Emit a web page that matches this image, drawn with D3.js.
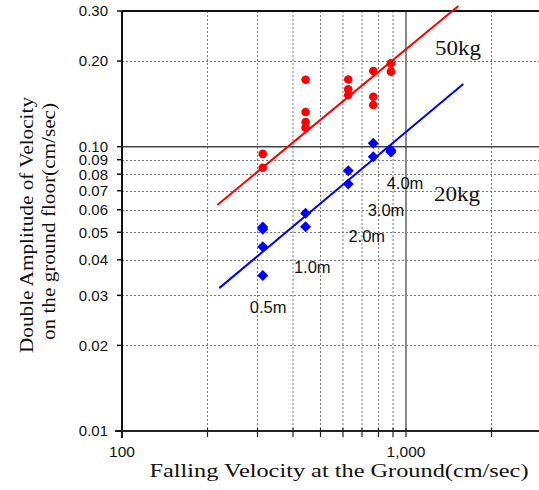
<!DOCTYPE html>
<html><head><meta charset="utf-8">
<script src="https://cdn.jsdelivr.net/npm/d3@7"></script>
<style>body{margin:0;background:#fff}svg{display:block}</style>
</head><body>
<script>
// ---- data ----
const heights = ["0.5m","1.0m","2.0m","3.0m","4.0m"];
const fallVel = [313, 443, 626, 767, 885];           // cm/sec for each drop height
const red50x = [313,313, 443,443,443,443, 626,626,626, 767,767,767, 885,885];
const red50y = [0.0943,0.0843, 0.172,0.1324,0.1221,0.1166, 0.1722,0.159,0.152, 0.1846,0.1499,0.1402, 0.1965,0.1836];
const blue20x = [313,313,313,313, 443,443, 626,626, 767,767, 885,885];
const blue20y = [0.0522,0.0512,0.0445,0.0352, 0.0583,0.0523, 0.0823,0.0739, 0.1028,0.0922, 0.0972,0.0958];
const fit50x = [216.6, 1529], fit50y = [0.0624, 0.3126];
const fit20x = [220, 1591], fit20y = [0.0318, 0.166];
const yTicks = [0.01,0.02,0.03,0.04,0.05,0.06,0.07,0.08,0.09,0.10,0.20,0.30];
const yTickLabels = ["0.01","0.02","0.03","0.04","0.05","0.06","0.07","0.08","0.09","0.10","0.20","0.30"];
const xGrid = [200,300,400,500,600,700,800,900,2000];
const xTicks = [100,1000];
const xTickLabels = ["100","1,000"];
const heightLabelX = [282, 403, 627, 733, 855];
const heightLabelY = [0.0259, 0.0359, 0.0463, 0.0570, 0.0708];
const seriesLabels = ["50kg","20kg"];
const seriesLabelX = [1265, 1255];
const seriesLabelY = [0.2104, 0.0646];

const W = 539, H = 490;
const x = d3.scaleLog().domain([100, 3000]).range([122, 541.5]);
const y = d3.scaleLog().domain([0.01, 0.3]).range([431, 11]);

const svg = d3.select("body").append("svg").attr("width", W).attr("height", H);
const sans = "'Liberation Sans', Arial, sans-serif";
const serif = "'Liberation Serif', 'Times New Roman', serif";

// gridlines
const g = svg.append("g");
g.selectAll(".vg").data(xGrid).join("line")
  .attr("x1", d => x(d)).attr("x2", d => x(d)).attr("y1", y(0.3)).attr("y2", y(0.01))
  .attr("stroke", "#777").attr("stroke-width", 1).attr("stroke-dasharray", "2,2");
g.selectAll(".hg").data(yTicks.filter(d => d !== 0.1 && d !== 0.01 && d !== 0.3)).join("line")
  .attr("x1", x(100)).attr("x2", W).attr("y1", d => Math.round(y(d)) + 0.5).attr("y2", d => Math.round(y(d)) + 0.5)
  .attr("stroke", "#777").attr("stroke-width", 1).attr("stroke-dasharray", "2,2");
// major gridlines
g.append("line").attr("x1", x(1000)).attr("x2", x(1000)).attr("y1", y(0.3)).attr("y2", y(0.01))
  .attr("stroke", "#888").attr("stroke-width", 2);
g.append("line").attr("x1", x(100)).attr("x2", W).attr("y1", y(0.1)).attr("y2", y(0.1))
  .attr("stroke", "#444").attr("stroke-width", 1.5);

// frame: top, left, bottom
svg.append("line").attr("x1", x(100)).attr("x2", W).attr("y1", y(0.3)).attr("y2", y(0.3))
  .attr("stroke", "#111").attr("stroke-width", 2);
svg.append("line").attr("x1", x(100) - 7).attr("x2", W).attr("y1", y(0.01)).attr("y2", y(0.01))
  .attr("stroke", "#222").attr("stroke-width", 2);
svg.append("line").attr("x1", x(100)).attr("x2", x(100)).attr("y1", y(0.3)).attr("y2", y(0.01) + 7)
  .attr("stroke", "#111").attr("stroke-width", 2);

// y ticks + labels
svg.selectAll(".yt").data(yTicks).join("line")
  .attr("x1", x(100) - 5).attr("x2", x(100)).attr("y1", d => y(d)).attr("y2", d => y(d))
  .attr("stroke", "#111").attr("stroke-width", 1.5);
svg.selectAll(".yl").data(yTicks).join("text")
  .attr("x", 108).attr("y", d => y(d)).attr("dy", "0.36em")
  .attr("text-anchor", "end").attr("font-family", sans).attr("font-size", 15).attr("fill", "#111")
  .text((d, i) => yTickLabels[i]);

// x ticks
svg.selectAll(".xt").data(xGrid.concat(xTicks)).join("line")
  .attr("x1", d => x(d)).attr("x2", d => x(d)).attr("y1", y(0.01) - 3).attr("y2", y(0.01) + 6)
  .attr("stroke", "#222").attr("stroke-width", 1.2);
svg.selectAll(".xl").data(xTicks).join("text")
  .attr("x", d => x(d)).attr("y", 457)
  .attr("text-anchor", "middle").attr("font-family", sans).attr("font-size", 15.5).attr("fill", "#111")
  .text((d, i) => xTickLabels[i]);

// fit lines
const line = d3.line().x(d => x(d[0])).y(d => y(d[1]));
svg.append("path").attr("d", line(fit50x.map((v, i) => [v, fit50y[i]])))
  .attr("stroke", "#ff0000").attr("stroke-width", 2).attr("fill", "none");
svg.append("path").attr("d", line(fit20x.map((v, i) => [v, fit20y[i]])))
  .attr("stroke", "#0000ff").attr("stroke-width", 2).attr("fill", "none");

// points
svg.selectAll(".r").data(red50x.map((v, i) => [v, red50y[i]])).join("circle")
  .attr("cx", d => x(d[0])).attr("cy", d => y(d[1])).attr("r", 4.3).attr("fill", "#ff0000");
const dsz = 5.5;
svg.selectAll(".b").data(blue20x.map((v, i) => [v, blue20y[i]])).join("path")
  .attr("d", d => { const cx = x(d[0]), cy = y(d[1]);
    return `M${cx},${cy - dsz}L${cx + dsz},${cy}L${cx},${cy + dsz}L${cx - dsz},${cy}Z`; })
  .attr("fill", "#0000ff");

// height labels
svg.selectAll(".hl").data(heights).join("text")
  .attr("x", (d, i) => x(heightLabelX[i])).attr("y", (d, i) => y(heightLabelY[i]))
  .attr("font-family", sans).attr("font-size", 16.5).attr("fill", "#111")
  .text(d => d);

// series labels
svg.selectAll(".sl").data(seriesLabels).join("text")
  .attr("x", (d, i) => x(seriesLabelX[i])).attr("y", (d, i) => y(seriesLabelY[i]))
  .attr("font-family", serif).attr("font-size", 20).attr("fill", "#111")
  .attr("textLength", 46).attr("lengthAdjust", "spacingAndGlyphs")
  .text(d => d);

// axis titles
svg.append("text").attr("x", 339).attr("y", 477).attr("text-anchor", "middle")
  .attr("font-family", serif).attr("font-size", 18).attr("fill", "#111")
  .attr("textLength", 379).attr("lengthAdjust", "spacingAndGlyphs")
  .text("Falling Velocity at the Ground(cm/sec)");
svg.append("text").attr("transform", "translate(33,225) rotate(-90)").attr("text-anchor", "middle")
  .attr("font-family", serif).attr("font-size", 19).attr("fill", "#111")
  .attr("textLength", 256).attr("lengthAdjust", "spacingAndGlyphs")
  .text("Double Amplitude of Velocity");
svg.append("text").attr("transform", "translate(55,221.5) rotate(-90)").attr("text-anchor", "middle")
  .attr("font-family", serif).attr("font-size", 19).attr("fill", "#111")
  .attr("textLength", 237).attr("lengthAdjust", "spacingAndGlyphs")
  .text("on the ground floor(cm/sec)");
</script>
</body></html>
